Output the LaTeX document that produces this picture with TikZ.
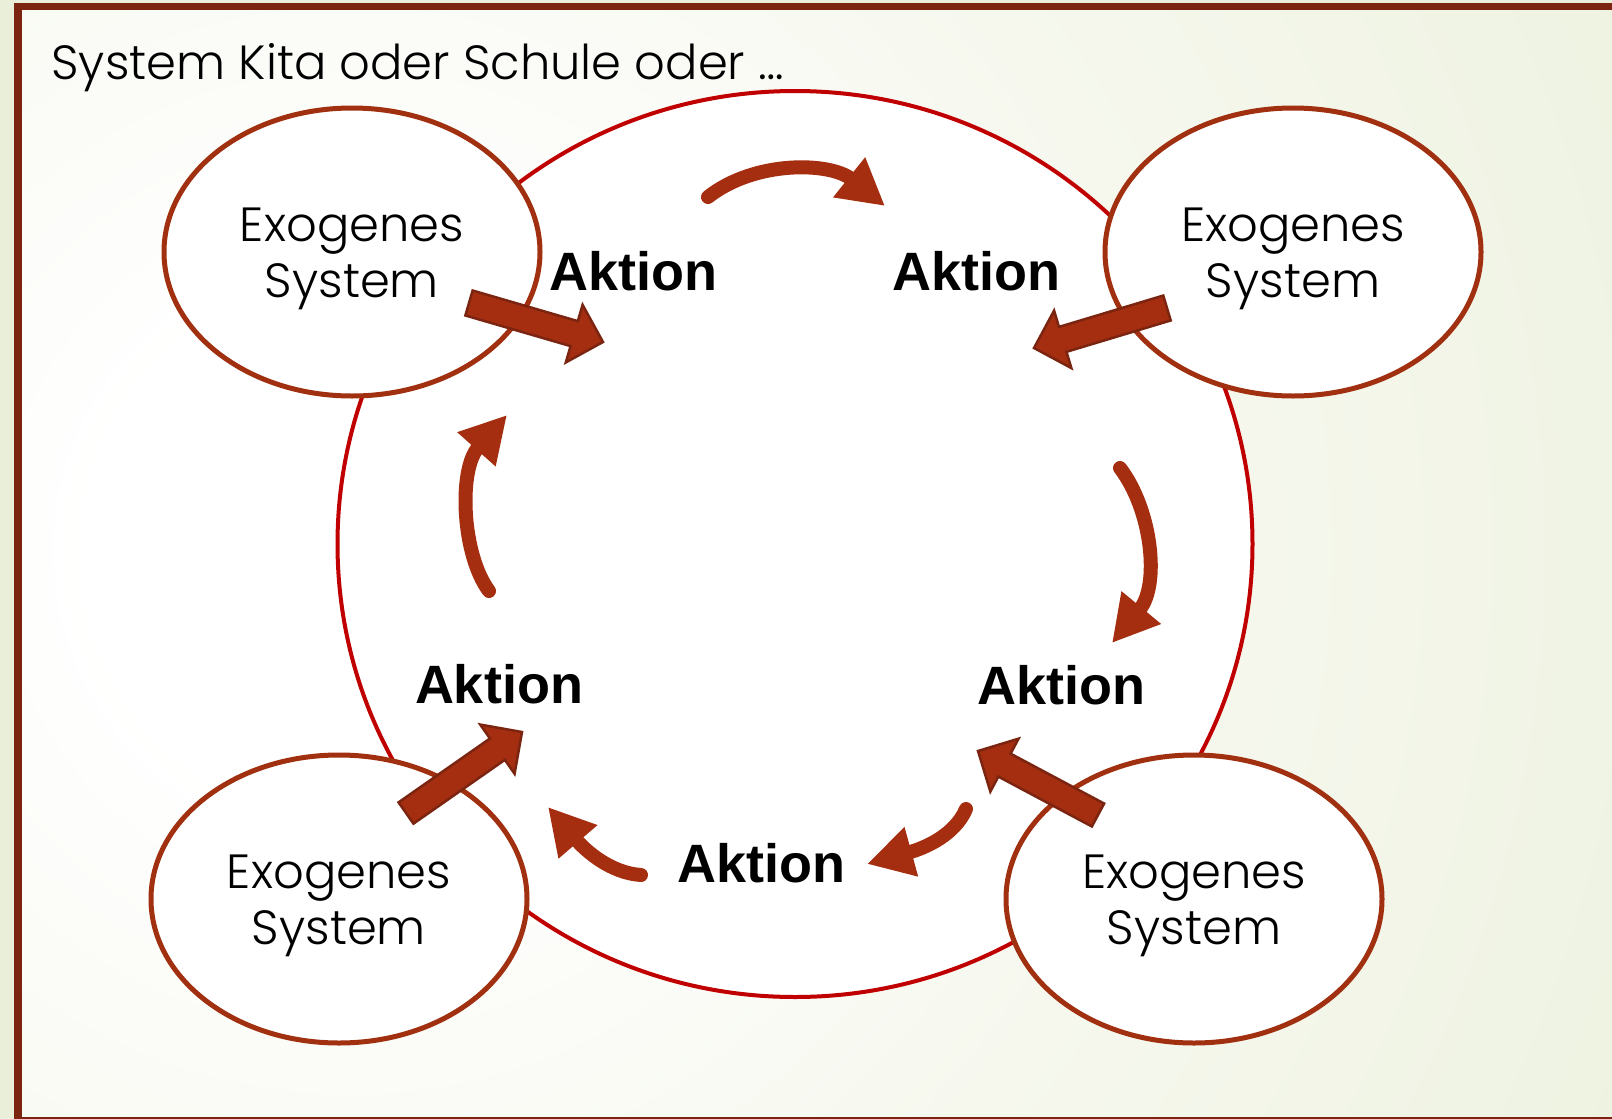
\documentclass[tikz,border=0pt]{standalone}
\usepackage{fontspec}
\setmainfont{Poppins}[UprightFont=* Light]
\newfontfamily\aktfont{Liberation Sans}
\usetikzlibrary{arrows.meta,shapes.geometric,calc}

\definecolor{framebrown}{HTML}{7B2410}
\definecolor{arrowbrown}{HTML}{A52E10}
\definecolor{ringred}{HTML}{C00000}
\definecolor{exobrown}{HTML}{A0300F}
\definecolor{bggreen}{HTML}{E2EBCB}
\definecolor{bgmid}{HTML}{E9EFD9}
\definecolor{bglight}{HTML}{F6F8EE}

\pgfdeclareradialshading{slidebg}{\pgfpoint{0bp}{0bp}}{color(0bp)=(white); color(4bp)=(white); color(13bp)=(bglight); color(27bp)=(bgmid); color(37bp)=(bggreen); color(50bp)=(bggreen)}

\tikzset{
  exo/.style={ellipse, draw=exobrown, line width=5, fill=white, minimum width=376, minimum height=288},
  exotext/.style={align=center, font=\fontsize{48}{56}\selectfont},
  aktion/.style={font=\aktfont\bfseries\fontsize{54}{58}\selectfont},
  kreis/.style={-{Triangle[length=46pt,width=48pt]}, arrowbrown, line width=14, line cap=round},
  block/.style={fill=arrowbrown, draw=framebrown, line width=2.5, line join=miter}
}

% block arrow from #1 to #2
\newcommand\blockpfeil[2]{%
  \coordinate (h) at ($(#2)!30pt!(#1)$);
  \filldraw[block] ($(#1)!13pt!90:(#2)$) -- ($(h)!13pt!90:(#2)$) -- ($(h)!30pt!90:(#2)$)
    -- (#2) -- ($(h)!30pt!-90:(#2)$) -- ($(h)!13pt!-90:(#2)$) -- ($(#1)!13pt!-90:(#2)$) -- cycle;
}

\begin{document}
\begin{tikzpicture}[x=1pt, y=-1pt]
\useasboundingbox (0,0) rectangle (1612,1119);
\clip (0,0) rectangle (1612,1119);

% background and frame
\fill[bgmid] (0,0) rectangle (1612,1119);
\begin{scope}
\clip (18,6.5) rectangle (1640,1121);
\shade[shading=slidebg] (350,550) circle (1600);
\end{scope}
\draw[framebrown, line width=7.5] (18,6.5) rectangle (1640,1121);

\node[anchor=base west, font=\fontsize{48}{56}\selectfont] (titel) at (48,79) {System Kita oder Schule oder \dots};

% das System
\node[ellipse, draw=ringred, line width=4, fill=white, minimum width=915, minimum height=906] (sys) at (795,544) {};

\node[exo] (e1) at (352,252) {};
\node[exo] (e2) at (1293,252) {};
\node[exo] (e3) at (339,899) {};
\node[exo] (e4) at (1194,899) {};
\node[exotext] (e1t) at ($(e1)+(0,7)$) {Exogenes\\System};
\node[exotext] (e2t) at ($(e2)+(0,7)$) {Exogenes\\System};
\node[exotext] (e3t) at ($(e3)+(0,7)$) {Exogenes\\System};
\node[exotext] (e4t) at ($(e4)+(0,7)$) {Exogenes\\System};

\node[aktion] (a1) at (633,271) {Aktion};
\node[aktion] (a2) at (976,271) {Aktion};
\node[aktion] (a3) at (1061,685) {Aktion};
\node[aktion] (a4) at (761,863) {Aktion};
\node[aktion] (a5) at (499,684) {Aktion};

% Einwirkungen von aussen
\coordinate (e1a) at (469,303);  \coordinate (e1b) at (603,342);
\coordinate (e2a) at (1167,308); \coordinate (e2b) at (1034,348);
\coordinate (e3a) at (406,813);  \coordinate (e3b) at (522,732);
\coordinate (e4a) at (1098,815); \coordinate (e4b) at (978,751);
\blockpfeil{e1a}{e1b}
\blockpfeil{e2a}{e2b}
\blockpfeil{e3a}{e3b}
\blockpfeil{e4a}{e4b}

% Kreislauf
\coordinate (k1) at (708,197);  \coordinate (k2) at (885,206);
\coordinate (k3) at (1120,468); \coordinate (k4) at (1112,643);
\coordinate (k5) at (966,809);  \coordinate (k6) at (867,864);
\coordinate (k7) at (641,875);  \coordinate (k8) at (548,807);
\coordinate (k9) at (489,591);  \coordinate (k10) at (507,415);
\draw[kreis] (k1) .. controls (755,160) and (830,162) .. (k2);
\draw[kreis] (k3) .. controls (1152,510) and (1160,585) .. (k4);
\draw[kreis] (k5) .. controls (955,835) and (925,848) .. (k6);
\draw[kreis] (k7) .. controls (610,873) and (585,850) .. (k8);
\draw[kreis] (k9) .. controls (462,555) and (458,470) .. (k10);
\end{tikzpicture}
\end{document}
